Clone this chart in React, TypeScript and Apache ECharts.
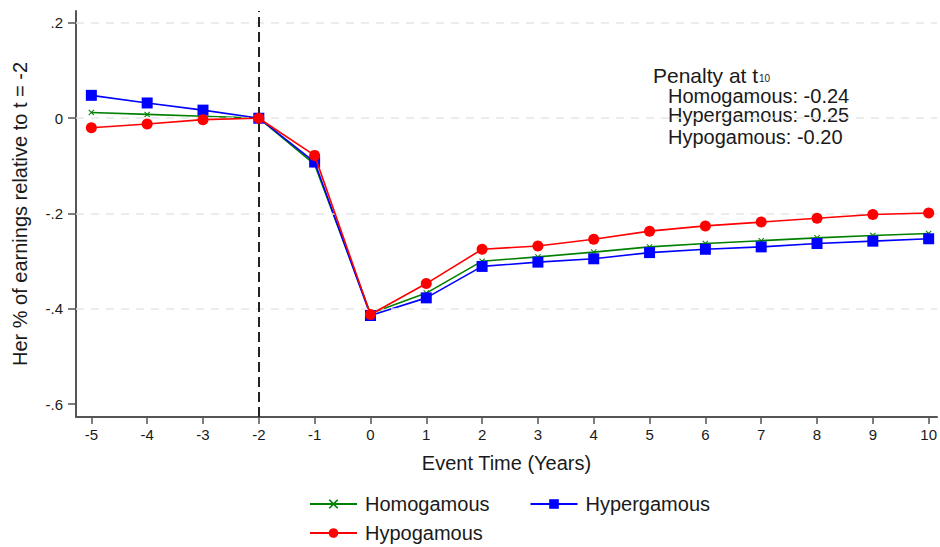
import React, { useEffect, useRef } from "react";
import * as echarts from "echarts";

const eventTime = [-5, -4, -3, -2, -1, 0, 1, 2, 3, 4, 5, 6, 7, 8, 9, 10];
const homogamous = [0.012, 0.008, 0.004, 0, -0.097, -0.41, -0.367, -0.3, -0.291, -0.281, -0.27, -0.263, -0.257, -0.251, -0.246, -0.242];
const hypergamous = [0.048, 0.032, 0.017, 0, -0.092, -0.414, -0.377, -0.311, -0.302, -0.295, -0.282, -0.275, -0.27, -0.263, -0.258, -0.253];
const hypogamous = [-0.02, -0.012, -0.003, 0, -0.078, -0.412, -0.347, -0.275, -0.268, -0.254, -0.237, -0.226, -0.218, -0.21, -0.202, -0.199];
const yTicks = [-0.6, -0.4, -0.2, 0, 0.2];
const yTickLabels = ["-.6", "-.4", "-.2", "0", ".2"];
const gridValues = [-0.4, -0.2, 0, 0.2];
const referenceTime = -2;
const penaltyLines = ["Homogamous: -0.24", "Hypergamous: -0.25", "Hypogamous: -0.20"];

const FONT = "'Liberation Sans', Arial, Helvetica, sans-serif";
const X_SYMBOL = "path://M0,1.2L1.2,0L5,3.8L8.8,0L10,1.2L6.2,5L10,8.8L8.8,10L5,6.2L1.2,10L0,8.8L3.8,5Z";

export default function App() {
  const ref = useRef<HTMLDivElement>(null);
  useEffect(() => {
    if (!ref.current) return;
    const chart = echarts.init(ref.current, null, { renderer: "svg" });
    const pairs = (ys: number[]) => eventTime.map((x, i) => [x, ys[i]]);
    const legendText = { fontSize: 20, fontFamily: FONT, color: "#1a1a1a", padding: [0, 0, 0, 3] };
    chart.setOption({
      animation: false,
      backgroundColor: "#ffffff",
      textStyle: { fontFamily: FONT },
      grid: { left: 76, right: 0, top: 11, bottom: 130, containLabel: false },
      xAxis: {
        type: "value",
        min: -5.275,
        max: 10.15,
        name: "Event Time (Years)",
        nameLocation: "middle",
        nameGap: 36,
        nameTextStyle: { fontSize: 20, color: "#1a1a1a", fontFamily: FONT },
        axisLine: { show: true, onZero: false, lineStyle: { color: "#555", width: 2 } },
        axisTick: { show: true, length: 7, customValues: eventTime, lineStyle: { color: "#555", width: 1.5 } },
        axisLabel: { customValues: eventTime, fontSize: 15, color: "#1a1a1a", margin: 10, fontFamily: FONT },
        splitLine: { show: false },
      },
      yAxis: {
        type: "value",
        min: -0.627,
        max: 0.225,
        name: "Her % of earnings relative to t = -2",
        nameLocation: "middle",
        nameGap: 46,
        nameRotate: 90,
        nameTextStyle: { fontSize: 20, color: "#1a1a1a", fontFamily: FONT },
        axisLine: { show: true, onZero: false, lineStyle: { color: "#555", width: 2 } },
        axisTick: { show: true, length: 8, customValues: yTicks, lineStyle: { color: "#555", width: 1.5 } },
        axisLabel: {
          customValues: yTicks,
          fontSize: 15,
          color: "#1a1a1a",
          margin: 13,
          fontFamily: FONT,
          formatter: (v: number) => {
            const i = yTicks.findIndex((t) => Math.abs(t - v) < 1e-9);
            return i >= 0 ? yTickLabels[i] : "";
          },
        },
        splitLine: { show: false },
      },
      legend: [
        {
          data: ["Homogamous", "Hypergamous"],
          left: 304,
          top: 489,
          itemWidth: 47,
          itemHeight: 12,
          itemGap: 40,
          textStyle: legendText,
        },
        {
          data: ["Hypogamous"],
          left: 304,
          top: 518,
          itemWidth: 47,
          itemHeight: 12,
          itemGap: 40,
          textStyle: legendText,
        },
      ],
      series: [
        {
          name: "_grid",
          type: "line",
          data: [],
          z: 0,
          silent: true,
          markLine: {
            silent: true,
            symbol: ["none", "none"],
            label: { show: false },
            lineStyle: { color: "#e6e6e6", type: [8, 7], width: 1.5 },
            data: gridValues.map((v) => ({ yAxis: v })),
          },
        },
        {
          name: "_ref",
          type: "line",
          data: [],
          z: 1,
          silent: true,
          markLine: {
            silent: true,
            symbol: ["none", "none"],
            label: { show: false },
            lineStyle: { color: "#222", type: [10, 5], width: 2 },
            data: [{ xAxis: referenceTime }],
          },
        },
        {
          name: "Homogamous",
          type: "line",
          data: pairs(homogamous),
          symbol: X_SYMBOL,
          symbolSize: 6,
          z: 3,
          lineStyle: { color: "#008000", width: 1.6 },
          itemStyle: { color: "#008000" },
        },
        {
          name: "Hypergamous",
          type: "line",
          data: pairs(hypergamous),
          symbol: "rect",
          symbolSize: 11,
          z: 4,
          lineStyle: { color: "#0000ff", width: 1.6 },
          itemStyle: { color: "#0000ff" },
        },
        {
          name: "Hypogamous",
          type: "line",
          data: pairs(hypogamous),
          symbol: "circle",
          symbolSize: 11,
          z: 5,
          lineStyle: { color: "#ff0000", width: 1.6 },
          itemStyle: { color: "#ff0000" },
        },
      ],
      graphic: [
        {
          type: "text",
          x: 653,
          y: 75,
          style: {
            text: "{a|Penalty at t}{s|10}",
            verticalAlign: "middle",
            fill: "#1a1a1a",
            fontFamily: FONT,
            rich: {
              a: { fontSize: 21, fontFamily: FONT, fill: "#1a1a1a", verticalAlign: "bottom", lineHeight: 22 },
              s: { fontSize: 10, fontFamily: FONT, fill: "#1a1a1a", verticalAlign: "bottom", padding: [0, 0, 3, 1] },
            },
          },
        },
        ...penaltyLines.map((t, i) => ({
          type: "text",
          x: 668,
          y: [96, 115, 137][i],
          style: { text: t, fontSize: 20, lineHeight: 18, fontFamily: FONT, fill: "#1a1a1a", verticalAlign: "middle" },
        })),
      ],
    });
    return () => chart.dispose();
  }, []);
  return <div ref={ref} style={{ position: "fixed", left: 0, top: 0, width: 940, height: 547 }} />;
}
